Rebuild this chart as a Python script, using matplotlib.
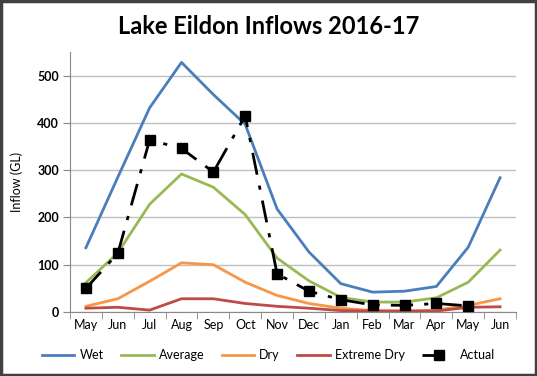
import matplotlib
matplotlib.use("Agg")
import matplotlib.pyplot as plt
import numpy as np

months = ["May", "Jun", "Jul", "Aug", "Sep", "Oct", "Nov", "Dec", "Jan", "Feb", "Mar", "Apr", "May", "Jun"]
wet = [136, 285, 432, 528, 460, 397, 218, 127, 60, 42, 44, 54, 137, 284]
average = [62, 125, 228, 292, 264, 206, 114, 66, 31, 21, 21, 30, 63, 131]
dry = [12, 28, 65, 104, 100, 63, 35, 18, 8, 3, 2, 4, 14, 28]
extreme_dry = [8, 10, 4, 28, 28, 18, 12, 8, 3, 2, 2, 2, 10, 11]
actual = [50, 124, 364, 346, 296, 415, 81, 44, 26, 15, 14, 18, 13]

plt.rcParams['font.family'] = ['Lato', 'DejaVu Sans']

fig = plt.figure(figsize=(5.37, 3.76), dpi=100)
ax = fig.add_axes([70/537, 1-312/376, (516-70)/537, (312-52)/376])

x = np.arange(len(months))
ax.plot(x, wet, color='#4a7ebb', lw=2.0, label='Wet')
ax.plot(x, average, color='#98b954', lw=2.0, label='Average')
ax.plot(x, dry, color='#f79646', lw=2.0, label='Dry')
ax.plot(x, extreme_dry, color='#be4b48', lw=2.0, label='Extreme Dry')
ax.plot(np.arange(len(actual)), actual, color='black', lw=2.0, linestyle=(0, (8, 4, 1.5, 4)),
        marker='s', markersize=6.5, label='Actual', zorder=5)

ax.set_xlim(-0.5, len(months) - 0.5)
ax.set_ylim(0, 550)
ax.set_yticks([0, 100, 200, 300, 400, 500])
ax.set_xticks(x)
ax.set_xticklabels(months, fontsize=9)
ax.set_xticks(np.arange(-0.5, len(months)), minor=True)
ax.tick_params(axis='x', which='major', length=0, pad=5)
ax.tick_params(axis='x', which='minor', length=5, color='#888888', direction='out')
ax.tick_params(axis='y', length=5, color='#888888', labelsize=9, pad=3)
for lab in ax.get_yticklabels():
    lab.set_fontweight('bold')
ax.grid(axis='y', color='#bfbfbf', lw=1)
ax.set_axisbelow(True)
for s in ['top', 'right']:
    ax.spines[s].set_visible(False)
ax.spines['left'].set_color('#888888')
ax.spines['bottom'].set_color('#888888')
ax.set_ylabel('Inflow (GL)', fontsize=9, labelpad=10)

fig.text(0.5, 1-27/376, 'Lake Eildon Inflows 2016-17', ha='center', va='center',
         fontsize=17, fontweight='bold')

fig.legend(loc='center', bbox_to_anchor=(0.5, 1-355/376), ncol=5, frameon=False,
           fontsize=9, handlelength=2.6, columnspacing=1.4, handletextpad=0.4)

border = plt.Rectangle((0.002, 0.003), 0.996, 0.994, transform=fig.transFigure,
                       fill=False, edgecolor='#404040', lw=2.5)
fig.patches.append(border)

fig.savefig('out.png', dpi=100)
